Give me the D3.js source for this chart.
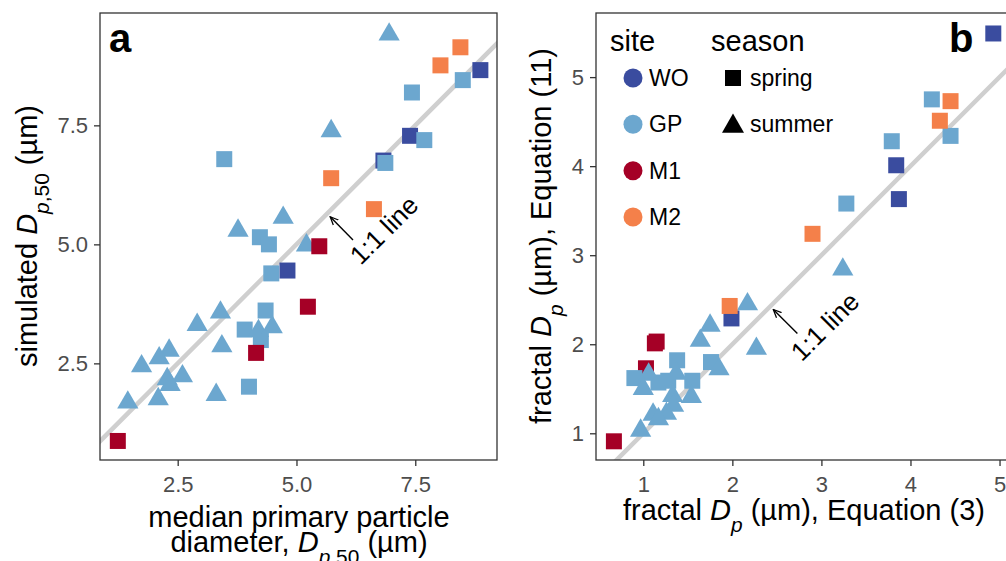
<!DOCTYPE html>
<html>
<head>
<meta charset="utf-8">
<script src="https://cdn.jsdelivr.net/npm/d3@7"></script>
<style>
  body { margin: 0; background: #fff; }
  svg text { font-family: "Liberation Sans", Arial, Helvetica, sans-serif; }
</style>
</head>
<body>
<svg id="chart" width="1006" height="561"></svg>
<script>
// ---- data: [x, y] per site / season ----
// panel a: median primary particle diameter vs simulated Dp,50
const a_WO_spring = [[8.87, 8.66], [7.39, 7.28], [6.83, 6.76], [4.81, 4.45]];
const a_GP_spring = [[8.50, 8.45], [7.43, 8.19], [7.69, 7.19], [3.48, 6.79], [6.87, 6.71], [4.23, 5.15],
                     [4.42, 5.00], [4.47, 4.39], [4.35, 3.61], [3.91, 3.21], [4.25, 2.99], [4.00, 2.01]];
const a_GP_summer = [[6.95, 9.41], [5.73, 7.38], [4.72, 5.56], [3.77, 5.29], [5.21, 4.98], [3.40, 3.57],
                     [2.91, 3.31], [4.20, 3.18], [4.49, 3.26], [3.43, 2.86], [2.32, 2.77], [2.11, 2.61],
                     [1.74, 2.44], [2.28, 2.17], [2.60, 2.23], [2.34, 2.05], [3.31, 1.84], [2.09, 1.75], [1.45, 1.68]];
const a_M1_spring = [[5.48, 4.96], [5.24, 3.69], [4.15, 2.72], [1.24, 0.87]];
const a_M2_spring = [[8.45, 9.14], [8.03, 8.76], [5.73, 6.39], [6.63, 5.74]];

// panel b: fractal Dp, Eq (3) vs Eq (11)
const b_WO_spring = [[4.93, 5.49], [3.84, 4.01], [3.87, 3.63], [1.99, 2.29]];
const b_GP_spring = [[4.24, 4.75], [4.45, 4.34], [3.79, 4.28], [3.28, 3.58], [1.38, 1.82], [1.76, 1.80],
                     [0.90, 1.62], [1.55, 1.59], [1.17, 1.57], [1.28, 1.59]];
const b_GP_summer = [[3.24, 2.84], [2.17, 2.45], [1.75, 2.21], [1.64, 2.04], [2.27, 1.95], [1.85, 1.72],
                     [1.06, 1.66], [1.00, 1.50], [1.37, 1.67], [1.33, 1.42], [1.54, 1.41], [1.11, 1.21],
                     [1.34, 1.31], [1.26, 1.22], [1.17, 1.16], [0.97, 1.03]];
const b_M1_spring = [[1.13, 2.01], [1.15, 2.03], [1.03, 1.73], [0.67, 0.91]];
const b_M2_spring = [[4.45, 4.73], [4.33, 4.51], [2.90, 3.24], [1.97, 2.43]];

const sites = ["WO", "GP", "M1", "M2"];
const seasons = ["spring", "summer"];
const siteColors = ["#3a4c9f", "#6ca7cf", "#a50026", "#f4804a"];

const aTicks = [2.5, 5.0, 7.5];
const bTicks = [1, 2, 3, 4, 5];

// ---- setup ----
const svg = d3.select("#chart");
const color = d3.scaleOrdinal().domain(sites).range(siteColors);
const shape = d3.scaleOrdinal().domain(seasons).range([d3.symbolSquare, d3.symbolTriangle]);
const shapeSize = {spring: 256, summer: 195};

function rows(arr, site, season) {
    return arr.map(function(d) { return {x: d[0], y: d[1], site: site, season: season}; });
}

const panelA = [].concat(
    rows(a_WO_spring, "WO", "spring"), rows(a_GP_spring, "GP", "spring"),
    rows(a_GP_summer, "GP", "summer"), rows(a_M1_spring, "M1", "spring"),
    rows(a_M2_spring, "M2", "spring"));
const panelB = [].concat(
    rows(b_WO_spring, "WO", "spring"), rows(b_M1_spring, "M1", "spring"),
    rows(b_GP_spring, "GP", "spring"), rows(b_GP_summer, "GP", "summer"),
    rows(b_M2_spring, "M2", "spring"));

// arrow marker
svg.append("defs").append("marker")
    .attr("id", "arrow")
    .attr("viewBox", "0 -5 10 10")
    .attr("refX", 9).attr("refY", 0)
    .attr("markerUnits", "userSpaceOnUse")
    .attr("markerWidth", 9).attr("markerHeight", 9)
    .attr("orient", "auto")
    .append("path")
    .attr("d", "M0,-4L9,0L0,4")
    .attr("fill", "none").attr("stroke", "#000").attr("stroke-width", 1.4);

function panel(opt) {
    let x = d3.scaleLinear().domain(opt.xDomain).range([opt.left, opt.right]);
    let y = d3.scaleLinear().domain(opt.yDomain).range([opt.bottom, opt.top]);
    let g = svg.append("g");

    g.append("clipPath").attr("id", "clip" + opt.id)
        .append("rect")
        .attr("x", opt.left).attr("y", opt.top)
        .attr("width", opt.right - opt.left).attr("height", opt.bottom - opt.top);

    // 1:1 line
    let lo = Math.max(opt.xDomain[0], opt.yDomain[0]) - 0.5,
        hi = Math.min(opt.xDomain[1], opt.yDomain[1]) + 0.5;
    g.append("line")
        .attr("clip-path", "url(#clip" + opt.id + ")")
        .attr("x1", x(lo)).attr("y1", y(lo))
        .attr("x2", x(hi)).attr("y2", y(hi))
        .attr("stroke", "#cfcfcf").attr("stroke-width", 4.5);

    // points
    g.append("g").attr("clip-path", "url(#clip" + opt.id + ")")
        .selectAll("path.pt")
        .data(opt.data)
        .enter().append("path")
        .attr("class", "pt")
        .attr("transform", function(d) { return "translate(" + x(d.x) + "," + y(d.y) + ")"; })
        .attr("d", function(d) { return d3.symbol().type(shape(d.season)).size(shapeSize[d.season])(); })
        .attr("fill", function(d) { return color(d.site); });

    // annotation
    g.append("line")
        .attr("x1", x(opt.arrow[2])).attr("y1", y(opt.arrow[3]))
        .attr("x2", x(opt.arrow[0])).attr("y2", y(opt.arrow[1]))
        .attr("stroke", "#000").attr("stroke-width", 1.4)
        .attr("marker-end", "url(#arrow)");
    g.append("text")
        .attr("transform", "translate(" + x(opt.label[0]) + "," + y(opt.label[1]) + ") rotate(-45)")
        .attr("text-anchor", "middle")
        .attr("dominant-baseline", "central")
        .attr("font-size", 26)
        .text("1:1 line");

    // axes
    let xAxis = g.append("g")
        .attr("transform", "translate(0," + opt.bottom + ")")
        .call(d3.axisBottom(x).tickValues(opt.ticks).tickFormat(opt.fmt).tickSize(6).tickPadding(10));
    let yAxis = g.append("g")
        .attr("transform", "translate(" + opt.left + ",0)")
        .call(d3.axisLeft(y).tickValues(opt.ticks).tickFormat(opt.fmt).tickSize(6).tickPadding(6));
    [xAxis, yAxis].forEach(function(ax) {
        ax.select(".domain").remove();
        ax.selectAll(".tick line").attr("stroke", "#333").attr("stroke-width", 1.3);
        ax.selectAll(".tick text").attr("fill", "#4d4d4d").attr("font-size", 22)
            .style("font-family", "'Liberation Sans', Arial, sans-serif");
    });

    // border
    g.append("rect")
        .attr("x", opt.left).attr("y", opt.top)
        .attr("width", opt.right - opt.left).attr("height", opt.bottom - opt.top)
        .attr("fill", "none").attr("stroke", "#333").attr("stroke-width", 1.3);

    // panel letter
    g.append("text")
        .attr("x", opt.left + opt.letterDx).attr("y", opt.top + 39)
        .attr("font-size", 40).attr("font-weight", "bold")
        .text(opt.id);

    return g;
}

// Dp subscript helper
function dp(t, sub2) {
    t.append("tspan").attr("font-style", "italic").text("D");
    let s = t.append("tspan").attr("baseline-shift", "sub").attr("font-size", "72%");
    s.append("tspan").attr("font-style", "italic").text("p");
    if (sub2) s.append("tspan").text(sub2);
}

let fmtA = d3.format(".1f");
let fmtB = d3.format("d");

panel({
    id: "a", data: panelA,
    left: 100, right: 497, top: 13, bottom: 460,
    xDomain: [0.865, 9.22], yDomain: [0.47, 9.86],
    ticks: aTicks, fmt: fmtA,
    arrow: [5.71, 5.58, 6.19, 5.09], label: [6.84, 5.30],
    letterDx: 9
});
panel({
    id: "b", data: panelB,
    left: 596, right: 1012, top: 13, bottom: 460,
    xDomain: [0.469, 5.14], yDomain: [0.70, 5.72],
    ticks: bTicks, fmt: fmtB,
    arrow: [2.46, 2.39, 2.73, 2.12], label: [3.04, 2.20],
    letterDx: 353
});

// axis titles
let t1 = svg.append("text").attr("x", 299).attr("y", 527).attr("text-anchor", "middle").attr("font-size", 29)
    .text("median primary particle");
let t2 = svg.append("text").attr("x", 299).attr("y", 552).attr("text-anchor", "middle").attr("font-size", 29);
t2.append("tspan").text("diameter, ");
dp(t2, ",50");
t2.append("tspan").attr("baseline-shift", "0").text(" (\u00b5m)");

let t3 = svg.append("text").attr("x", 804).attr("y", 520).attr("text-anchor", "middle").attr("font-size", 29);
t3.append("tspan").text("fractal ");
dp(t3);
t3.append("tspan").text(" (\u00b5m), Equation (3)");

let t4 = svg.append("text").attr("transform", "translate(37,236) rotate(-90)")
    .attr("text-anchor", "middle").attr("font-size", 29);
t4.append("tspan").text("simulated ");
dp(t4, ",50");
t4.append("tspan").text(" (\u00b5m)");

let t5 = svg.append("text").attr("transform", "translate(551,236) rotate(-90)")
    .attr("text-anchor", "middle").attr("font-size", 29);
t5.append("tspan").text("fractal ");
dp(t5);
t5.append("tspan").text(" (\u00b5m), Equation (11)");

// legend
let leg = svg.append("g");
leg.append("text").attr("x", 610).attr("y", 51).attr("font-size", 29).text("site");
leg.append("text").attr("x", 711).attr("y", 51).attr("font-size", 29).text("season");
let rowY = d3.scalePoint().domain(sites).range([78, 217]);
sites.forEach(function(s) {
    leg.append("circle").attr("cx", 633).attr("cy", rowY(s)).attr("r", 9.5).attr("fill", color(s));
    leg.append("text").attr("x", 649).attr("y", rowY(s)).attr("dominant-baseline", "central")
        .attr("font-size", 23).text(s);
});
seasons.forEach(function(s, i) {
    let yy = rowY(sites[i]);
    leg.append("path")
        .attr("transform", "translate(733," + (yy + (s === "summer" ? 2 : 0)) + ")")
        .attr("d", d3.symbol().type(shape(s)).size(s === "summer" ? 210 : 256)())
        .attr("fill", "#000");
    leg.append("text").attr("x", 750).attr("y", yy).attr("dominant-baseline", "central")
        .attr("font-size", 23).text(s);
});
</script>
</body>
</html>
